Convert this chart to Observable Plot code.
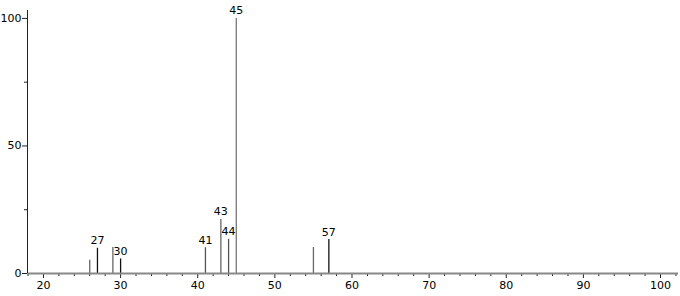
<!DOCTYPE html>
<html>
<head>
<meta charset="utf-8">
<script src="https://cdn.jsdelivr.net/npm/d3@7"></script>
<script src="https://cdn.jsdelivr.net/npm/@observablehq/plot@0.6"></script>
<style>
  html, body { margin: 0; padding: 0; background: #fff; }
  #chart svg { display: block; }
</style>
</head>
<body>
<div id="chart"></div>
<script>
const mz        = [26, 27, 29, 30, 41, 43, 44, 45, 55, 57];
const intensity = [5.2, 9.9, 10.2, 5.7, 10.1, 21.2, 13.4, 100, 10.2, 13.3];
const labeled   = [false, true, false, true, true, true, true, true, false, true];
const peakColor = ["#666", "#111", "#666", "#111", "#555", "#666", "#555", "#777", "#666", "#111"];
const xMajor = [20, 30, 40, 50, 60, 70, 80, 90, 100];
const xMinor = [18, 22, 24, 26, 28, 32, 34, 36, 38, 42, 44, 46, 48, 52, 54, 56, 58, 62, 64, 66, 68, 72, 74, 76, 78, 82, 84, 86, 88, 92, 94, 96, 98, 102];
const yMajor = [0, 50, 100];
const yMinor = [25, 75];

const peaks = mz.map((m, i) => ({mz: m, y: intensity[i], labeled: labeled[i], color: peakColor[i]}));
const font = "DejaVu Sans, sans-serif";

const chart = Plot.plot({
  width: 680,
  height: 296,
  marginLeft: 27,
  marginRight: 2,
  marginTop: 10,
  marginBottom: 23,
  style: {fontFamily: font, fontSize: "11px", color: "#000", background: "#fff"},
  x: {type: "linear", domain: [17.93, 102.33], axis: null},
  y: {type: "linear", domain: [0, 103.1], axis: null},
  marks: [
    Plot.axisX({ticks: xMinor, tickSize: 3, tickFormat: () => "", stroke: "#222", strokeWidth: 1, label: null}),
    Plot.axisX({ticks: xMajor, tickSize: 5, tickPadding: 3, stroke: "#222", strokeWidth: 1, fill: "#000", fontSize: 11, label: null}),
    Plot.axisY({ticks: yMinor, tickSize: 3, tickFormat: () => "", stroke: "#222", label: null}),
    Plot.axisY({ticks: yMajor, tickSize: 5, tickPadding: 1, stroke: "#222", fill: "#000", fontSize: 11, label: null}),
    Plot.ruleX(peaks, {x: "mz", y1: 0, y2: "y", stroke: "color", strokeWidth: 1.3}),
    Plot.ruleY([0], {stroke: "#888", strokeWidth: 1.8}),
    Plot.ruleX([17.93], {y1: 0, y2: 103.1, stroke: "#222", strokeWidth: 1}),
    Plot.text(peaks.filter(d => d.labeled), {x: "mz", y: "y", text: d => String(d.mz), lineAnchor: "bottom", dy: -4, fill: "#000", fontSize: 11})
  ]
});
document.getElementById("chart").appendChild(chart);
</script>
</body>
</html>
